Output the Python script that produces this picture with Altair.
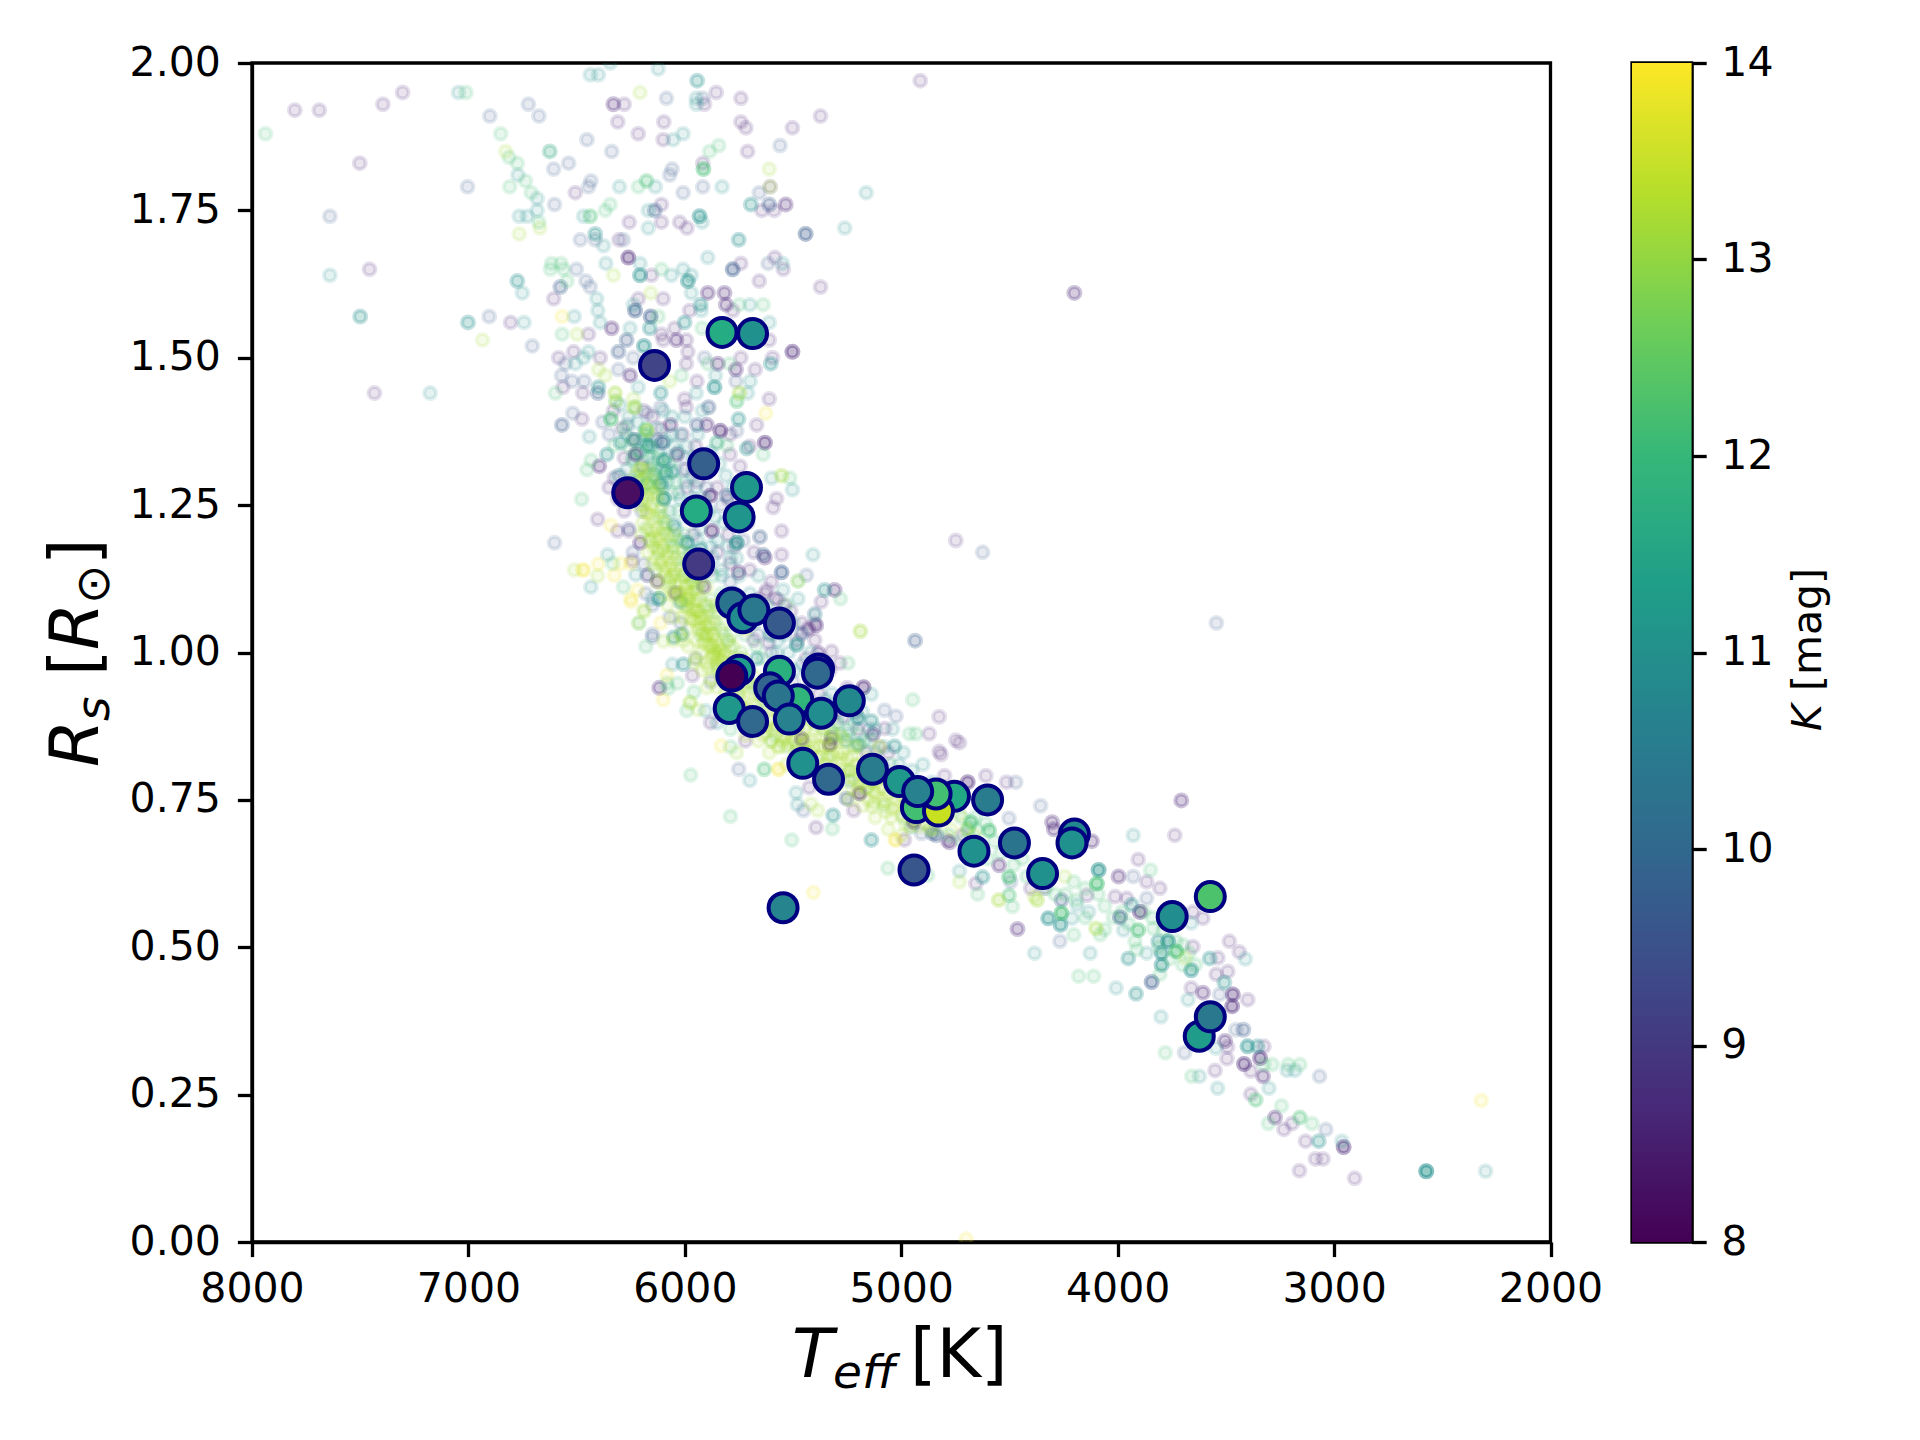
import altair as alt
import pandas as pd

# Highlighted planets: (Teff, Rs, Kmag), back to front
highlight = [
 (5828,1.543,11.7),(5687,1.541,11.0),(6140,1.487,9.2),(5913,1.32,9.8),(5715,1.28,11.2),(6264,1.271,8.2),
 (5947,1.24,11.7),(5749,1.23,11.1),(5936,1.15,9.0),(5783,1.084,10.3),(5732,1.059,10.9),(5681,1.072,10.4),
 (5563,1.05,9.7),(5749,0.97,11.3),(5783,0.96,8.0),(5382,0.972,9.0),(5387,0.965,10.0),(5563,0.968,11.8),
 (5608,0.94,9.9),(5478,0.92,11.9),(5568,0.926,10.3),(5240,0.918,10.8),(5795,0.905,11.2),(5687,0.883,10.0),
 (5517,0.887,10.6),(5370,0.897,10.9),(5455,0.812,11.0),(5336,0.785,10.0),(5133,0.802,10.5),(5008,0.781,11.2),
 (4754,0.756,11.6),(4930,0.737,12.2),(4828,0.731,13.5),(4839,0.76,12.2),(4924,0.764,10.6),(4601,0.75,10.5),
 (4200,0.692,10.8),(4211,0.677,11.0),(4664,0.663,11.0),(4477,0.677,10.3),(4347,0.625,11.0),(4941,0.631,9.6),
 (5546,0.567,10.7),(3572,0.586,12.3),(3748,0.552,10.9),(3623,0.349,11.3),(3572,0.382,10.4),
]

# Faint background population, grouped by colour class
dark_stars = [
 (5917,1.83),(5710,1.85),(5503,1.89),(5373,1.91),(5741,1.94),(5855,1.95),(5909,1.93),(6506,1.78),(6330,1.93),(6330,1.93),
 (6280,1.93),(6310,1.90),(6215,1.88),(6097,1.90),(6100,1.87),(5741,1.90),(5718,1.89),(5606,1.79),(5644,1.75),(5587,1.75),
 (5534,1.76),(5534,1.76),(4912,1.97),(6108,1.76),(6257,1.73),(6108,1.73),(6024,1.73),(5990,1.72),(6304,1.70),(6261,1.67),
 (6261,1.67),(6261,1.67),(6154,1.64),(5741,1.66),(5584,1.67),(5545,1.65),(5656,1.63),(5373,1.62),(6606,1.60),(6100,1.60),
 (5894,1.61),(5894,1.61),(5817,1.61),(5817,1.61),(5810,1.59),(5810,1.59),(5779,1.58),(5978,1.58),(6215,1.60),(6805,1.56),
 (6445,1.54),(6338,1.55),(6338,1.55),(6108,1.54),(6047,1.55),(6100,1.53),(6039,1.53),(6039,1.53),(5993,1.53),(5986,1.51),
 (5610,1.53),(5503,1.51),(5503,1.51),(5503,1.51),(6514,1.51),(6583,1.50),(6391,1.50),(5848,1.49),(5848,1.49),(5741,1.50),
 (5595,1.50),(5993,1.49),(5675,1.48),(5764,1.48),(5764,1.48),(6563,1.45),(6253,1.47),(6253,1.47),(5944,1.46),(6472,1.44),
 (5610,1.43),(6001,1.43),
 (7802,1.92),(7689,1.92),(7304,1.95),(7395,1.93),(7502,1.83),(7457,1.65),(7434,1.44),(4200,1.61),(4200,1.61),(4748,1.19),
 (6475,1.396),(6403,1.226),(6311,1.206),(6258,1.206),(6207,1.186),(6207,1.186),(6227,1.336),(6227,1.336),(6227,1.336),
 (6036,1.336),(6036,1.336),(6066,1.386),(6066,1.386),(5993,1.416),(5898,1.386),(5898,1.386),(5836,1.376),(5836,1.376),(5836,1.376),
 (5668,1.386),(5630,1.356),(5630,1.356),(5630,1.356),(6326,1.296),(6395,1.316),(6395,1.316),(6196,1.316),(5745,1.316),(5791,1.336),
 (5882,1.266),(5882,1.266),(5882,1.266),(5875,1.206),(5875,1.206),(5875,1.206),(5576,1.261),(5592,1.246),(5553,1.206),(5553,1.166),
 (5630,1.161),(5630,1.161),(5791,1.151),(5752,1.136),(5752,1.136),(6127,1.121),(6127,1.121),(6173,1.131),(6242,1.156),(5913,1.112),
 (5913,1.112),(6043,1.101),(6043,1.101),(5622,1.106),(5308,1.106),(5308,1.106),(5370,1.086),(5584,1.092),(5393,1.046),(5393,1.046),(5431,1.041),
 (6118,0.94),(5965,0.961),(5881,0.881),(5720,0.85),(6118,0.94),(5425,0.771),(5394,0.703),(5220,0.732),(5192,0.761),(5192,0.761),(5192,0.761),
 (4985,0.682),(4787,0.681),(4825,0.891),(4871,0.862),(4825,0.832),(4748,0.851),(5174,0.941),(5174,0.941),(5174,0.941),(5077,0.871),
 (5131,0.861),(5131,0.861),(5330,0.844),(5330,0.844),(5330,0.844),(5322,0.855),(5322,0.855),(5460,0.853),(5460,0.853),(5460,0.853),
 (4954,0.752),(4954,0.752),(4954,0.752),(4942,0.712),(4942,0.712),(4942,0.712),(5399,1.049),(5429,1.038),(5399,1.021),(5383,0.999),
 (5383,0.999),(5322,1.002),(5284,0.982),(5360,0.985),(5682,1.021),(5613,1.016),
 (4816,0.827),(4731,0.847),(4800,0.791),(4609,0.791),(4693,0.78),(4693,0.78),(4693,0.78),(4514,0.78),(3706,0.749),(3706,0.749),
 (3736,0.69),(3905,0.649),(4303,0.712),(4303,0.712),(4295,0.70),(4295,0.70),(4119,0.68),(4119,0.68),(4777,0.678),(4777,0.678),
 (4716,0.69),(4655,0.608),(4548,0.639),(4548,0.639),(4402,0.60),(4341,0.60),(4463,0.531),(4463,0.531),(3996,0.62),(3996,0.62),
 (3866,0.611),(3805,0.60),(4142,0.588),(4012,0.586),(3958,0.583),(3897,0.56),(3897,0.56),(3897,0.56),(3652,0.501),(3484,0.51),
 (3438,0.492),(3606,0.549),(3652,0.56),(3491,0.459),(3545,0.454),(3660,0.431),(3606,0.423),(3606,0.423),(3468,0.42),(3468,0.42),
 (3468,0.42),(3471,0.40),(3471,0.40),(3471,0.40),(3399,0.411),(3537,0.482),
 (3550,0.291),(3495,0.311),(3504,0.341),(3504,0.341),(3492,0.331),(3416,0.302),(3416,0.302),(3416,0.302),(3342,0.312),(3342,0.312),
 (3342,0.312),(3324,0.332),(3385,0.29),(3328,0.281),(3328,0.281),(3385,0.251),(3273,0.211),(3273,0.211),(3232,0.191),(3194,0.201),
 (3132,0.171),(2956,0.161),(2956,0.161),(2956,0.161),(3086,0.141),(3051,0.141),(3160,0.121),(2905,0.108),
 (6330,1.41),(6290,1.38),(6190,1.41),(6150,1.40),(6110,1.38),(6010,1.37),(5950,1.35),(5920,1.33),(5790,1.37),(5700,1.35),
 (6350,1.28),(6310,1.26),(6280,1.24),(6240,1.27),(5990,1.28),(5960,1.20),(5890,1.14),(5850,1.17),(5800,1.20),(5710,1.22),
 (5680,1.17),(5660,1.09),(5600,1.12),(5540,1.08),(5480,1.02),(5440,0.99),(5330,0.97),(5250,0.94),(5210,0.90),(5060,0.83),
 (6280,1.33),(6130,1.36),(6000,1.31),(5940,1.29),(5850,1.28),(5800,1.26),(5770,1.18),(5700,1.14),(5630,1.10),(5570,1.09),
 (5510,1.07),(5460,1.05),(5420,0.95),(5380,0.93),(5270,0.89),(5200,0.87),(5160,0.83),
]

blue_stars = [
 (6901,1.91),(6723,1.93),(6674,1.91),(6537,1.83),(6606,1.82),(7004,1.79),(6602,1.76),(6445,1.79),(6434,1.80),(6070,1.81),
 (6059,1.82),(6008,1.78),(5917,1.79),(6085,1.94),(5917,1.94),(6452,1.87),(6338,1.85),(5560,1.86),(5656,1.78),(5610,1.76),
 (5610,1.76),(6139,1.75),(6139,1.75),(5442,1.71),(5442,1.71),(5442,1.71),(6483,1.70),(6414,1.70),(6284,1.70),(5779,1.65),
 (5779,1.65),(5779,1.65),(5615,1.66),(6501,1.65),(6575,1.62),(6575,1.62),(6457,1.63),(6437,1.62),(6230,1.58),(6230,1.58),
 (6230,1.58),(6158,1.57),(6158,1.57),(6158,1.57),(6904,1.57),(6705,1.52),(6269,1.53),(6269,1.53),(6307,1.51),(6307,1.51),
 (6238,1.50),(5909,1.50),(6552,1.49),(6570,1.47),(6521,1.46),(6465,1.46),(6307,1.48),(5764,1.46),(6402,1.44),(6402,1.44),
 (4624,1.17),(3544,1.05),(7640,1.74),
 (6568,1.386),(6568,1.386),(6518,1.406),(6602,1.186),(6380,1.391),(6265,1.386),(6235,1.361),(6235,1.361),(6235,1.361),(6104,1.356),
 (6104,1.356),(6104,1.356),(6173,1.406),(6112,1.416),(5890,1.416),(5890,1.416),(5944,1.386),(5944,1.386),(5760,1.376),(5638,1.166),
 (5638,1.166),(5806,1.266),(5806,1.266),(5653,1.196),(5653,1.196),(5553,1.136),(5553,1.136),(5553,1.136),(5438,1.131),(6173,1.131),
 (6150,1.026),(5461,1.031),(5400,1.066),
 (6149,1.031),(5458,1.033),(5751,0.802),(4936,1.02),(4936,1.02),(5077,0.902),(5024,0.892),(4906,0.693),(4855,0.693),(4855,0.693),
 (5452,0.732),(5253,0.752),(5253,0.752),(5085,0.805),
 (4356,0.74),(4502,0.719),(4471,0.78),(4838,0.69),(4838,0.69),(4494,0.611),(4260,0.58),(4260,0.58),(4267,0.51),(3843,0.441),
 (3843,0.441),(3843,0.441),(3928,0.62),(3866,0.583),(3989,0.551),(3989,0.551),(3989,0.551),(3529,0.42),
 (3691,0.321),(3454,0.36),(3419,0.36),(3419,0.36),(3067,0.281),(3038,0.191),
 (6350,1.37),(6300,1.30),(6260,1.27),(6200,1.24),(6260,1.21),(6240,1.17),(6190,1.15),(6180,1.10),(6150,1.08),(6070,1.06),
 (6020,1.05),(5950,0.99),(5880,0.95),(5830,1.08),(5790,1.12),(5760,1.08),(5700,1.06),(5660,1.03),(5600,1.00),(5500,0.95),
 (5450,0.93),(5300,0.90),(5150,0.87),(5100,0.84),(6000,1.33),(5960,1.31),(5900,1.28),(5830,1.25),(5780,1.22),(5730,1.19),
]

teal_stars = [
 (7046,1.95),(6624,1.85),(6771,1.81),(6682,1.77),(6682,1.75),(6765,1.74),(6728,1.74),(6302,1.79),(6136,1.79),(5828,1.79),
 (5947,1.94),(5947,1.93),(5943,1.97),(5943,1.97),(6123,1.99),(6345,2.00),(6399,1.98),(6437,1.98),(6054,1.87),(6008,1.88),
 (5695,1.76),(5695,1.76),(5162,1.78),(5261,1.72),(6468,1.74),(6169,1.75),(5932,1.74),(5932,1.74),(5932,1.74),(5920,1.73),
 (6169,1.72),(5751,1.70),(5751,1.70),(6414,1.71),(6414,1.71),(6376,1.69),(6207,1.66),(6207,1.64),(6207,1.64),(6207,1.64),
 (6365,1.66),(6062,1.64),(6008,1.65),(5970,1.64),(5986,1.63),(5986,1.63),(5986,1.63),(5894,1.67),(5549,1.66),(6774,1.63),
 (6774,1.63),(6751,1.61),(6407,1.60),(6402,1.58),(6391,1.56),(5970,1.61),(5927,1.59),(5927,1.59),(5699,1.59),(5924,1.58),
 (6238,1.59),(5610,1.56),(6001,1.56),(6001,1.56),(6511,1.57),(6743,1.56),(7004,1.56),(7500,1.57),(7500,1.57),(6253,1.55),
 (6162,1.55),(6162,1.55),(6189,1.52),(6189,1.52),(6189,1.52),(6445,1.51),(6468,1.50),(5603,1.49),(5603,1.49),(6506,1.49),
 (6215,1.45),(5858,1.47),(5863,1.45),(5863,1.45),(5863,1.45),(5698,1.46),(6399,1.45),(6399,1.45),(6111,1.44),(6111,1.44),
 (5710,1.44),(7177,1.44),(5947,1.44),(7640,1.64),(7000,1.56),
 (6441,1.366),(6360,1.336),(6360,1.336),(6296,1.356),(6296,1.356),(6173,1.351),(6173,1.351),(6173,1.351),(6097,1.326),(6097,1.326),
 (6097,1.326),(6059,1.306),(6059,1.306),(6089,1.306),(6089,1.306),(6097,1.261),(6097,1.261),(6097,1.261),(6097,1.261),(6112,1.286),
 (6112,1.286),(6112,1.286),(6051,1.216),(6051,1.216),(5990,1.186),(5990,1.186),(5990,1.186),(5928,1.176),(5928,1.176),(5760,1.186),
 (5760,1.186),(5760,1.186),(5760,1.186),(5714,1.346),(5714,1.346),(5752,1.396),(5752,1.396),(5852,1.356),(5599,1.296),(5503,1.276),
 (6357,1.166),(5408,1.166),(6227,1.132),(6434,1.111),(6120,1.091),(6120,1.091),(6120,1.091),(6150,1.091),(5354,1.106),(5354,1.106),
 (5546,1.106),(5477,1.091),(6020,1.086),(6020,1.086),(6013,1.031),(6013,1.031),(6051,1.026),(6051,1.026),
 (6057,0.98),(6007,0.98),(6007,0.98),(5904,0.901),(5850,0.881),(5700,0.783),(5486,0.762),(5480,0.742),(5315,0.724),(5315,0.724),
 (5138,0.682),(5138,0.682),(5138,0.929),(5138,0.884),(5138,0.884),(5200,0.889),(5200,0.889),(5200,0.889),(4954,0.704),(5253,0.85),
 (5200,0.844),(5200,0.844),(5031,0.841),(5031,0.841),(5238,0.782),(5399,1.064),(5483,1.013),(5483,1.013),(5483,1.013),(5667,0.99),
 (5667,0.99),(5575,0.999),
 (3928,0.69),(4731,0.629),(4624,0.619),(4624,0.619),(4321,0.549),(4321,0.549),(4321,0.549),(4264,0.538),(4264,0.538),(4264,0.538),
 (4211,0.549),(4188,0.572),(4134,0.56),(4384,0.49),(4127,0.49),(4007,0.431),(3915,0.421),(3915,0.421),(3800,0.382),(4088,0.631),
 (4088,0.631),(4088,0.631),(4088,0.631),(3935,0.572),(3935,0.572),(3973,0.529),(3951,0.481),(3951,0.481),(3866,0.49),(3813,0.51),
 (3813,0.51),(3767,0.51),(3767,0.51),(3767,0.51),(3767,0.51),(3797,0.49),(3797,0.49),(3797,0.49),(3797,0.47),(3797,0.47),
 (3797,0.47),(3660,0.461),(3660,0.461),(3660,0.461),(3575,0.481),(3575,0.481),(3410,0.48),(3660,0.541),(3507,0.44),(3507,0.44),
 (3675,0.411),
 (3622,0.281),(3538,0.261),(3546,0.329),(3400,0.332),(3400,0.332),(3400,0.332),(3354,0.332),(3354,0.332),(3217,0.291),(3181,0.291),
 (3301,0.261),(3071,0.171),(3071,0.171),(2964,0.171),(2574,0.12),(2574,0.12),(2574,0.12),(2574,0.12),(2574,0.12),(2300,0.12),
 (6300,1.42),(6260,1.40),(6220,1.39),(6180,1.37),(6150,1.35),(6130,1.38),(6090,1.36),(6060,1.40),(6020,1.37),(5990,1.35),
 (5960,1.33),(6240,1.33),(6210,1.30),(6170,1.33),(6140,1.30),(6080,1.29),(6040,1.31),(6000,1.29),(5970,1.30),(5940,1.37),
 (5880,1.34),(5840,1.32),(5810,1.30),(5780,1.28),(6020,1.26),(5990,1.23),(5960,1.26),(5930,1.21),(5890,1.24),(5850,1.19),
 (5820,1.22),(5790,1.16),(5750,1.13),(5700,1.10),(5660,1.13),(5620,1.08),(5590,1.06),(5540,1.03),(5500,1.05),(5460,0.98),
 (5420,1.00),(5360,0.95),(5320,0.93),(5280,0.91),(5220,0.88),(5180,0.90),(5120,0.87),(5080,0.84),(5040,0.87),(4990,0.83),
 (4950,0.80),(4900,0.81),(4860,0.78),(6160,1.36),(6120,1.34),(6080,1.33),(6050,1.35),(6130,1.31),(6100,1.28),(6070,1.24),
 (6030,1.27),(6040,1.21),(6010,1.19),(5970,1.17),(5940,1.19),(5880,1.18),(5830,1.14),(5760,1.16),(5610,1.03),(5570,1.02),
 (6310,1.30),(6270,1.31),(6250,1.29),(6270,1.37),(6210,1.34),(6200,1.36),(6150,1.32),(6060,1.37),(6030,1.34),(5985,1.25),
 (5950,1.28),(5910,1.26),(5860,1.23),(5800,1.18),(5870,1.16),(5830,1.13),(5770,1.10),(5730,1.07),(5680,1.05),(5640,1.07),
 (5600,1.03),(5520,1.00),(5490,0.97),(5400,0.97),(5350,0.92),(5290,0.88),(5250,0.86),(5170,0.85),(5120,0.83),(5010,0.81),
 (4960,0.78),(4890,0.77),(6100,1.41),(6000,1.40),(5920,1.41),
]

green_stars = [
 (7938,1.88),(7011,1.95),(6851,1.88),(6812,1.84),(6774,1.83),(6624,1.85),(6736,1.80),(6809,1.79),(6710,1.78),(6674,1.73),
 (6215,1.79),(6177,1.80),(6177,1.80),(5914,1.82),(5914,1.82),(5886,1.85),(5843,1.86),(6437,1.74),(6437,1.74),(6345,1.76),
 (6368,1.75),(6108,1.65),(6616,1.66),(6572,1.66),(6621,1.65),(6560,1.65),(6544,1.63),(5748,1.59),(5638,1.59),(6123,1.57),
 (6567,1.54),(5920,1.55),(5894,1.49),(5794,1.49),(6598,1.44),(6016,1.47),(5914,1.82),
 (6452,1.31),(6477,1.26),(6342,1.396),(6342,1.396),(6342,1.396),(6319,1.426),(6227,1.416),(6181,1.379),(6181,1.379),(6326,1.351),
 (6433,1.326),(6242,1.326),(6143,1.306),(6173,1.286),(6173,1.286),(5806,1.351),(5852,1.356),(5760,1.426),(5760,1.426),(5638,1.336),
 (5515,1.296),(5281,1.091),(5477,1.121),(6284,1.111),(6212,1.05),(6334,1.151),(5530,1.081),
 (6180,1.01),(6034,0.948),(6077,0.939),(6082,0.948),(5958,0.933),(5991,0.901),(5789,0.87),(5789,0.84),(5973,0.792),(5633,0.802),
 (5633,0.802),(5789,0.722),(5506,0.682),(5318,0.701),(5246,0.982),(4947,0.92),(4932,0.862),(4962,0.862),(5062,0.634),(4878,0.622),
 (4691,0.70),(4691,0.70),(4594,0.698),(4594,0.698),(4594,0.698),(4678,0.712),(4678,0.712),(4678,0.712),(4647,0.59),(4502,0.619),
 (4502,0.619),(4502,0.619),(4502,0.588),(4502,0.588),(4486,0.569),(4260,0.558),(4260,0.558),(4260,0.558),(4260,0.558),(4203,0.521),
 (4180,0.451),(4111,0.451),(4096,0.608),(4096,0.608),(4096,0.608),(4096,0.608),(4203,0.611),(3848,0.631),(4081,0.521),(3905,0.529),
 (3905,0.529),(3905,0.529),(3836,0.532),(3920,0.51),(3912,0.496),(3729,0.493),(3729,0.493),(3729,0.493),(3729,0.493),(3698,0.504),
 (3805,0.454),
 (3780,0.321),(3658,0.281),(3324,0.301),(3286,0.301),(3212,0.301),(3158,0.301),(3362,0.241),(3362,0.241),(3243,0.231),(3158,0.211),
 (3158,0.211),(3304,0.201),(3102,0.201),
 (6280,1.38),(6240,1.36),(6200,1.34),(6190,1.37),(6160,1.35),(6120,1.33),(6090,1.30),(6220,1.29),(6060,1.27),(6030,1.24),
 (6000,1.20),(5980,1.17),(5940,1.16),(5920,1.14),(5870,1.13),(5830,1.10),(5800,1.08),(5760,1.06),(5720,1.03),(5670,1.01),
 (5640,0.99),(5570,0.95),(5520,0.92),(5430,0.91),(5370,0.89),(5300,0.88),(5240,0.87),(5190,0.86),(5140,0.85),(5050,0.81),
 (5010,0.79),(4900,0.77),(4800,0.73),(4720,0.72),(4650,0.70),(6150,1.33),(6110,1.31),(6260,1.35),(6070,1.32),(6040,1.29),
 (4780,0.69),(4720,0.68),(4660,0.72),(4610,0.71),(4570,0.68),(4540,0.66),(4600,0.65),(4480,0.64),(4440,0.65),(4420,0.62),
 (4370,0.63),(4330,0.60),(4290,0.59),(4240,0.59),(4190,0.58),(4150,0.60),(4090,0.59),(4060,0.57),(4020,0.55),(3980,0.56),
 (3950,0.54),(3880,0.56),(3840,0.55),(3810,0.50),(3790,0.53),(3760,0.48),(3730,0.51),(3700,0.47),(3670,0.49),(3640,0.47),
 (4150,0.55),(4060,0.53),
]

lime_stars = [
 (6828,1.85),(6670,1.72),(6765,1.71),(6207,1.95),(5610,1.82),(5606,1.79),(6330,1.64),(6158,1.61),(6935,1.53),(6498,1.54),
 (6368,1.47),(6399,1.48),(6070,1.46),(6322,1.44),(6322,1.44),(6238,1.43),(5748,1.44),(5748,1.44),
 (6319,1.426),(6235,1.416),(6235,1.416),(6173,1.376),(6173,1.376),(6204,1.312),(6204,1.312),(5553,1.30),(5553,1.30),(6510,1.14),
 (6403,1.13),(6189,1.071),(5189,1.036),(5189,1.036),(5477,1.121),
 (6188,1.07),(6214,1.05),(6099,1.019),(6053,1.02),(6008,1.02),(5954,0.982),(5899,0.982),(5899,0.94),(5976,0.915),(5976,0.915),
 (5938,0.903),(5761,0.83),(5386,0.732),(5417,0.743),(5134,0.738),(4981,0.709),(4731,0.611),(4550,0.58),(4550,0.58),(4372,0.58),
 (4372,0.58),(4386,0.586),(4245,0.62),(4100,0.532),(4100,0.532),(3688,0.482),
]

# dense ridge of the main sequence
ridge_lime = [
 (6200,1.29),(6185,1.27),(6170,1.26),(6180,1.24),(6155,1.25),(6140,1.23),(6165,1.21),(6130,1.21),(6110,1.20),(6145,1.18),
 (6100,1.18),(6080,1.17),(6115,1.15),(6065,1.15),(6090,1.13),(6040,1.13),(6020,1.12),(6055,1.10),(5995,1.11),(5975,1.10),
 (6010,1.08),(5950,1.09),(5930,1.07),(5975,1.06),(5905,1.06),(5940,1.04),(5885,1.05),(5870,1.03),(5910,1.02),(5855,1.02),
 (5840,1.00),(5880,0.99),(5815,1.00),(5795,0.98),(5830,0.96),(5760,0.97),(5735,0.95),(5780,0.93),(5700,0.93),(5670,0.91),
 (5720,0.89),(5650,0.89),(5610,0.90),(5590,0.87),(5640,0.86),(5550,0.86),(5510,0.87),(5460,0.86),(5420,0.85),(5490,0.83),
 (5370,0.86),(5330,0.84),(5390,0.82),(5290,0.83),(5250,0.82),(5310,0.80),(5210,0.81),(5180,0.79),(5230,0.77),(5140,0.78),
 (5100,0.77),(5150,0.75),(5060,0.76),(5020,0.75),(5070,0.73),(4980,0.74),(4940,0.72),(4890,0.71),(4850,0.72),
 (6175,1.235),(6150,1.205),(6125,1.175),(6105,1.155),(6085,1.145),(6070,1.125),(6045,1.115),(6035,1.095),(6010,1.09),(5990,1.075),
 (5965,1.075),(5950,1.055),(5930,1.05),(5915,1.035),(5895,1.03),(5880,1.015),(5860,1.005),(5845,0.99),(5825,0.985),(5810,0.97),
 (5785,0.965),(5770,0.95),(5750,0.93),(5725,0.925),(5700,0.905),(5685,0.89),(5660,0.875),(5620,0.875),(5575,0.875),(5535,0.855),
 (5490,0.85),(5450,0.845),(5405,0.84),(5360,0.84),(5320,0.825),(5275,0.81),(5235,0.80),(5195,0.775),(5160,0.77),(5120,0.76),
 (5085,0.75),(5040,0.735),(5000,0.725),(4960,0.735),(4910,0.725),
 (5990,1.115),(5960,1.105),(5930,1.09),(5920,1.06),(5900,1.045),(5880,1.04),(5860,1.03),(5850,1.01),(5835,1.005),(5820,0.995),
 (5990,1.09),(5965,1.055),(5945,1.07),(5915,1.015),(5890,1.01),(5870,0.995),(5855,0.98),(5810,0.955),(5790,0.945),(5740,0.91),
 (5640,0.875),(5600,0.85),(5560,0.84),(5520,0.845),(5450,0.83),(5420,0.83),(5370,0.825),(5350,0.81),(5260,0.80),(5220,0.785),
 (6210,1.27),(6190,1.25),(6150,1.27),(6195,1.22),(6115,1.24),(6160,1.19),(6125,1.19),(6090,1.20),(6135,1.16),(6055,1.17),
 (6095,1.14),(6060,1.13),(6025,1.15),(6075,1.11),(6000,1.13),(6030,1.10),(5970,1.12),(5995,1.10),(5945,1.11),(6010,1.06),
 (5955,1.08),(5985,1.04),(5925,1.04),(5895,1.08),(5945,1.02),(5875,1.06),(5925,1.00),(5865,1.00),(5890,0.975),(5800,1.02),
 (5845,0.975),(5780,0.99),(5810,0.935),(5745,0.975),(5755,0.91),(5715,0.95),(5700,0.875),(5655,0.925),(5625,0.865),(5590,0.905),
 (5570,0.84),(5530,0.885),(5480,0.875),(5445,0.87),(5470,0.82),(5400,0.87),(5350,0.855),(5365,0.80),(5305,0.85),(5270,0.83),
 (5290,0.79),(5225,0.825),(5195,0.81),(5205,0.765),(5155,0.795),(5120,0.78),(5125,0.745),(5080,0.77),(5030,0.765),(5045,0.72),
 (4990,0.755),(4960,0.705),(4920,0.705),(4870,0.735),(4860,0.70),(4800,0.72),(4770,0.70),(4730,0.725),(4700,0.70),(4660,0.69),
 (6160,1.235),(6140,1.195),(6105,1.175),(6075,1.16),(6050,1.14),(6020,1.10),(5985,1.09),(5955,1.07),(5935,1.06),(5905,1.03),
 (5875,1.01),(5850,0.995),(5830,0.975),(5795,0.955),(5760,0.945),(5730,0.905),(5695,0.885),(5665,0.895),(5605,0.885),(5550,0.85),
 (5500,0.85),(5440,0.85),(5380,0.84),(5335,0.825),(5280,0.82),(5240,0.79),(5175,0.78),(5130,0.765),(5075,0.745),(5010,0.74),
 (6230,1.30),(6170,1.31),(6205,1.29),(6150,1.29),(6215,1.25),(6125,1.27),(6200,1.20),(6100,1.22),(6170,1.17),(6150,1.15),
 (6050,1.20),(6130,1.12),(6100,1.10),(6010,1.17),(6080,1.08),(6050,1.06),(5960,1.15),(6020,1.03),(5930,1.13),(5900,1.11),
 (5985,1.01),(5950,0.99),(5860,1.08),(5820,1.05),(5920,0.97),(5880,0.955),(5775,1.01),(5850,0.94),(5730,0.99),(5680,0.96),
 (5820,0.91),(5770,0.90),(5640,0.94),(5720,0.86),(5590,0.92),(5660,0.85),(5540,0.90),(5610,0.83),(5490,0.89),(5440,0.89),
 (5530,0.81),(5380,0.885),(5450,0.80),(5320,0.87),(5380,0.79),(5270,0.855),(5300,0.77),(5210,0.84),(5240,0.75),(5150,0.82),
 (5180,0.74),(5100,0.80),(5120,0.72),(5040,0.79),(5060,0.70),(4980,0.77),(5000,0.69),(4920,0.76),
]

ridge_green = [
 (6190,1.31),(6160,1.28),(6195,1.26),(6130,1.26),(6120,1.23),(6180,1.21),(6095,1.21),(6120,1.17),(6135,1.14),(6060,1.18),
 (6040,1.16),(6070,1.12),(6005,1.13),(5990,1.08),(5960,1.12),(5940,1.10),(5925,1.03),(5890,1.07),(5860,1.05),(5850,0.97),
 (5820,1.03),(5790,1.01),(5750,0.99),(5710,0.97),(5760,0.93),(5680,0.94),(5640,0.92),(5690,0.87),(5600,0.85),(5560,0.89),
 (5530,0.84),(5470,0.88),(5440,0.83),(5400,0.88),(5340,0.82),(5280,0.86),(5240,0.80),(5190,0.84),(5160,0.77),(5110,0.80),
 (5080,0.74),(5030,0.78),(4990,0.72),(4950,0.75),(4910,0.74),(4870,0.70),
 (6150,1.30),(6120,1.28),(6175,1.30),(6105,1.25),(6085,1.22),(6160,1.19),(6075,1.20),(6030,1.19),(6020,1.14),(5985,1.15),
 (5925,1.12),(5905,1.08),(5835,1.04),(5800,1.02),(5725,0.98),(5660,0.94),(5620,0.93),(5510,0.90),(5360,0.87),(5310,0.86),
 (5260,0.85),(5150,0.80),(5060,0.79),(4840,0.70),
 (6215,1.31),(6200,1.28),(6140,1.28),(6100,1.23),(6065,1.19),(6050,1.18),(6010,1.16),(5975,1.13),(5950,1.13),(5880,1.09),
 (5850,1.07),(5785,1.03),(5740,1.00),(5700,0.95),(5650,0.90),(5580,0.86),(5480,0.84),(5320,0.86),(5220,0.84),(5090,0.79),
]

yellow_stars = [
 (6567,1.57),(5626,1.406),(6342,1.216),(6296,1.151),(6326,1.131),(6250,1.151),(6250,1.091),(6219,1.106),(6112,1.05),(5100,0.84),
 (6248,1.086),(6083,0.962),(5832,0.842),(5567,0.802),(5567,0.802),(5406,0.593),(5027,0.682),(5027,0.682),(2320,0.24),(4700,0.005),
 (6470,1.14),(6470,1.14),(5720,1.04),(6400,1.15),(6100,0.92),
]

classes = [
 (dark_stars, 8.6), (blue_stars, 9.7), (teal_stars, 11.0),
 (green_stars, 12.2), (ridge_green, 12.7), (lime_stars, 13.2), (ridge_lime, 13.25), (yellow_stars, 13.9),
]

rows = [{"Teff": t, "Rs": r, "K": k} for pts, k in classes for t, r in pts]
faint = pd.DataFrame(rows)
top = pd.DataFrame(highlight, columns=["Teff", "Rs", "K"])

FONT = "DejaVu Sans"
x_ticks = [8000, 7000, 6000, 5000, 4000, 3000, 2000]
y_ticks = [0, 0.25, 0.5, 0.75, 1.0, 1.25, 1.5, 1.75, 2.0]
k_ticks = [8, 9, 10, 11, 12, 13, 14]
viridis = ["#440154", "#482878", "#3e4989", "#31688e", "#26828e", "#1f9e89", "#35b779", "#6ece58", "#b5de2b", "#fde725"]

PW, PH = 1298.5, 1179
color_scale = alt.Scale(scheme="viridis", domain=[8, 14], clamp=True)
x_enc = alt.X("Teff:Q", scale=alt.Scale(domain=[8000, 2000], nice=False),
              axis=alt.Axis(values=x_ticks, title=None, format="d", grid=False, labelPadding=13))
y_enc = alt.Y("Rs:Q", scale=alt.Scale(domain=[0, 2], nice=False),
              axis=alt.Axis(values=y_ticks, title=None, format=".2f", grid=False, labelPadding=17))

bg = alt.Chart(faint).mark_circle(size=144, fillOpacity=0.12, strokeOpacity=0.14, strokeWidth=4, clip=True).encode(
    x=x_enc, y=y_enc,
    color=alt.Color("K:Q", scale=color_scale, legend=None),
    stroke=alt.Stroke("K:Q", scale=color_scale, legend=None),
)
fg = alt.Chart(top).mark_point(filled=True, size=841, opacity=1, stroke="#000080", strokeWidth=4, shape="circle", clip=True).encode(
    x=x_enc, y=y_enc,
    color=alt.Color("K:Q", scale=color_scale, legend=None),
)

one = pd.DataFrame({"a": [0]})


def label(text, x, y, size, italic=False, angle=0):
    kw = {"fontStyle": "italic"} if italic else {}
    return alt.Chart(one).mark_text(
        text=text, font=FONT, fontSize=size, align="left", baseline="alphabetic", angle=angle, color="black", **kw
    ).encode(x=alt.value(x), y=alt.value(y))


BIG, SUB = 68, 47
titles = [
    label("T", 540, 1314, BIG, True),
    label("eff", 581, 1325, SUB, True),
    label("[K]", 658, 1314, BIG),
    label("R", -154, 704, BIG, True, 270),
    label("s", -143, 658, SUB, True, 270),
    label("[", -154, 613, BIG, False, 270),
    label("R", -154, 587, BIG, True, 270),
    label("\u2299", -143, 541, SUB, False, 270),
    label("]", -154, 502, BIG, False, 270),
]
main = alt.layer(bg, fg, *titles).properties(width=PW, height=PH)

bar_df = pd.DataFrame({"lo": [8], "hi": [14]})
grad = alt.LinearGradient(
    gradient="linear", x1=0, x2=0, y1=1, y2=0,
    stops=[alt.GradientStop(color=c, offset=i / (len(viridis) - 1)) for i, c in enumerate(viridis)],
)
bar = alt.Chart(bar_df).mark_rect(fill=grad).encode(
    x=alt.value(0), x2=alt.value(59.6),
    y=alt.Y("lo:Q", scale=alt.Scale(domain=[8, 14], nice=False),
            axis=alt.Axis(orient="right", values=k_ticks, title=None, format="d", grid=False, labelPadding=14.6)),
    y2="hi:Q",
)
cb = alt.layer(
    bar,
    label("K", 189, 668, 41, True, 270),
    label("[mag]", 189, 628, 41, False, 270),
).properties(width=59.6, height=PH)

chart = alt.hconcat(main, cb, spacing=81, bounds="flush").properties(
    padding={"left": 34, "top": 32, "right": 10, "bottom": 10}
).configure_view(stroke="black", strokeWidth=3.3).configure_axis(
    domainColor="black", domainWidth=3.3, tickColor="black", tickWidth=3.3, tickSize=14.6,
    labelFont=FONT, labelFontSize=41, labelColor="black", labelFlush=False,
    labelOverlap=False, labelBound=False,
)
chart.save("out.html", embed_options={"renderer": "svg", "actions": False})
